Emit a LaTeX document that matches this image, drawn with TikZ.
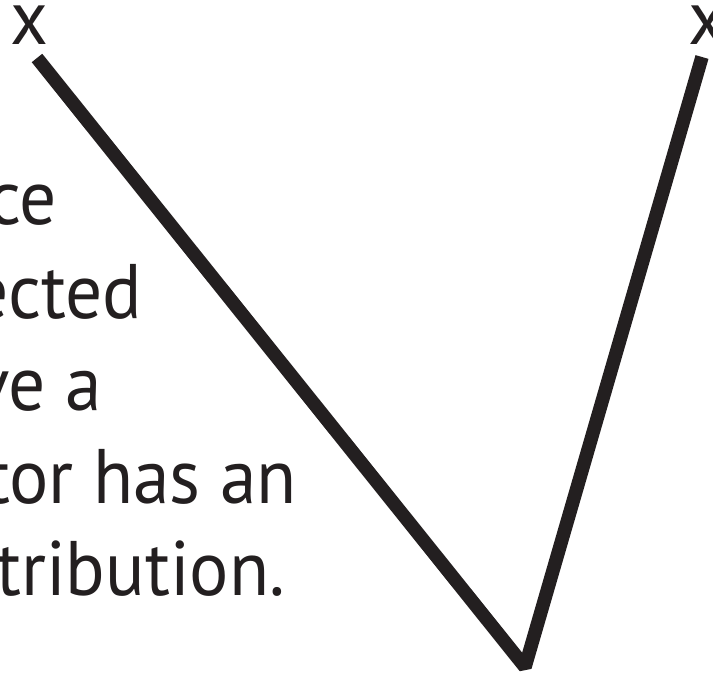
\documentclass[tikz,border=0pt]{standalone}
\usepackage{fontspec}
\setmainfont{PT Sans}
\usepackage{xcolor}
\definecolor{myblack}{RGB}{35,31,32}

\begin{document}
\begin{tikzpicture}[x=0.02cm, y=-0.02cm, every node/.style={inner sep=0pt, outer sep=0pt, text=myblack, font=\fontsize{44}{53}\selectfont, xscale=0.95, transform shape}]
 \useasboundingbox (0,0) rectangle (713,675);
 \coordinate (L) at (37,58);
 \coordinate (B) at (525,667);
 \coordinate (R) at (702,57);

 %the V:
 \draw[line width=0.27cm, color=myblack, line join=bevel] (L) -- (B) -- (R);

 %ends
 \node[anchor=base] (xl) at (29,45) {x};
 \node[anchor=base west] (xr) at (688,45) {x};

 %text
 \node[anchor=base east] (t1) at (57,225) {ce};
 \node[anchor=base east] (t2) at (142,318) {ected};
 \node[anchor=base east] (t3) at (102,410) {ve a};
 \node[anchor=base east] (t4) at (297,503) {tor has an};
 \node[anchor=base east] (t5) at (285,595) {tribution.};
\end{tikzpicture}
\end{document}
